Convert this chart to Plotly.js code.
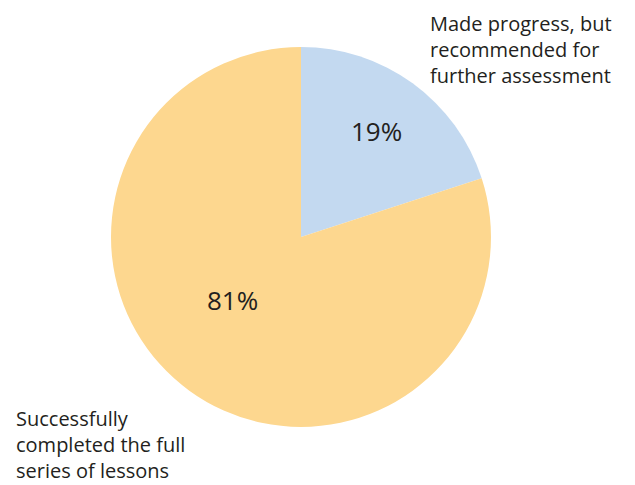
<!DOCTYPE html>
<html><head><meta charset="utf-8">
<script src="https://cdn.plot.ly/plotly-3.0.1.min.js"></script>
<style>html,body{margin:0;padding:0;background:#fff;}#chart{width:635px;height:485px;}</style>
</head><body><div id="chart"></div>
<script>
const categories = ["Made progress, but<br>recommended for<br>further assessment", "Successfully<br>completed the full<br>series of lessons"];
const values = [20, 80];
const percentLabels = ["19%", "81%"];
const colors = ["#c3d9f0", "#fdd78f"];

const trace = {
  type: "pie",
  values: values,
  labels: categories,
  marker: {colors: colors, line: {width: 0}},
  sort: false,
  direction: "clockwise",
  rotation: 0,
  textinfo: "none",
  hoverinfo: "none",
  showlegend: false,
  domain: {x: [0.1748, 0.7732], y: [0.1196, 0.9031]}
};

const font = {family: "'Open Sans', Lato, sans-serif", color: "#231f20"};
const annotations = [
  {text: categories[0], x: 428/635, y: 1 - 8/485, xanchor: "left", yanchor: "top", align: "left", font: Object.assign({size: 20}, font)},
  {text: categories[1], x: 15/635, y: 0, xanchor: "left", yanchor: "bottom", align: "left", borderpad: 0, font: Object.assign({size: 20}, font)},
  {text: percentLabels[0], x: 376/635, y: 1 - 131/485, xanchor: "center", yanchor: "middle", font: Object.assign({size: 26}, font)},
  {text: percentLabels[1], x: 232/635, y: 1 - 300/485, xanchor: "center", yanchor: "middle", font: Object.assign({size: 26}, font)}
].map(a => Object.assign({xref: "paper", yref: "paper", showarrow: false}, a));

Plotly.newPlot("chart", [trace], {
  width: 635, height: 485,
  margin: {l: 0, r: 0, t: 0, b: 0},
  paper_bgcolor: "#fff",
  annotations: annotations
}, {staticPlot: true, displayModeBar: false});
</script></body></html>
